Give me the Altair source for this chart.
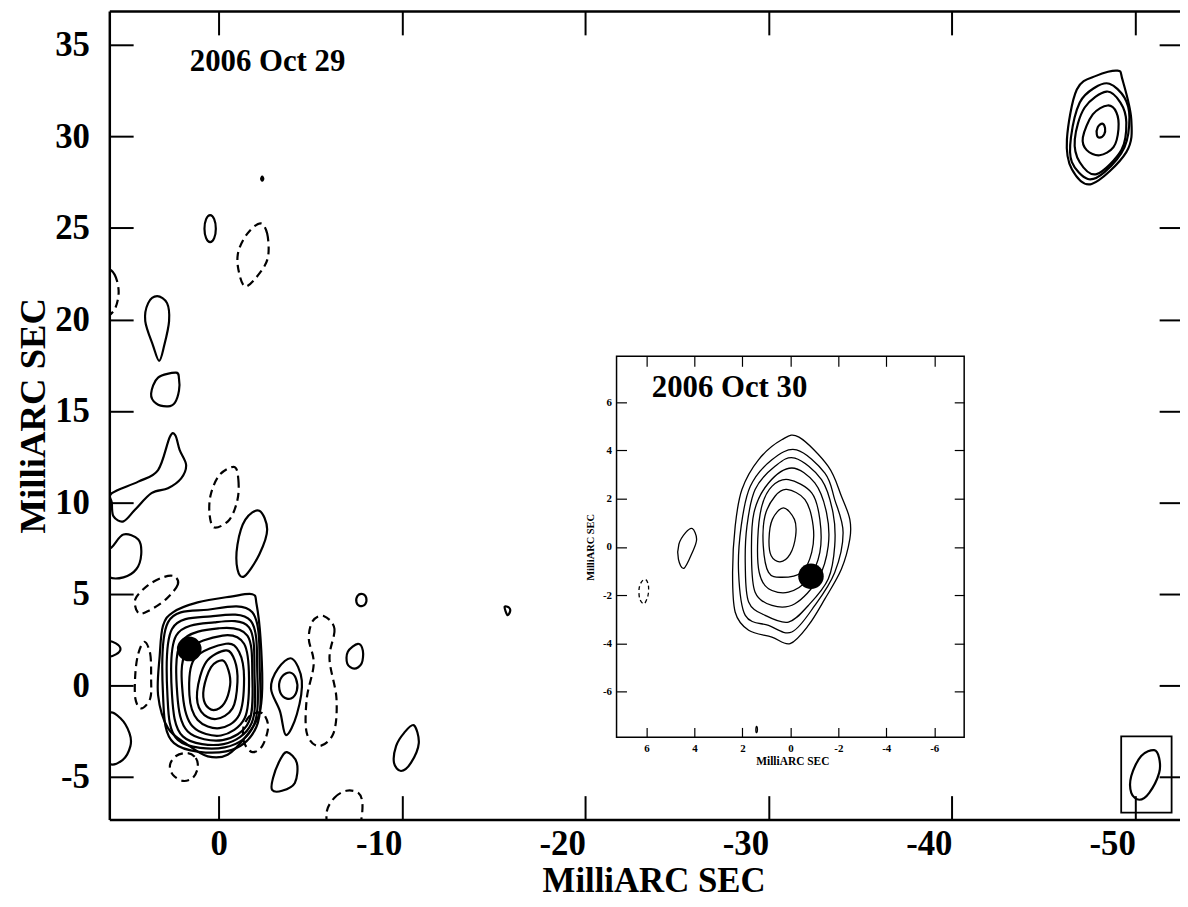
import altair as alt
import pandas as pd

FONT = "Liberation Serif"

# ---------------- axis values and domains ----------------
main_x_ticks = [0, -10, -20, -30, -40, -50]
main_y_ticks = [-5, 0, 5, 10, 15, 20, 25, 30, 35]
inset_x_ticks = [-6, -4, -2, 0, 2, 4, 6]
inset_y_ticks = [-6, -4, -2, 0, 2, 4, 6]
main_x_domain = [-52.6, 5.96]
main_y_domain = [-7.32, 36.85]
inset_x_domain = [-7.25, 7.25]
inset_y_domain = [-7.9, 7.9]
axis_title = "MilliARC SEC"

# ---------------- annotations ----------------
epoch_main = ["2006 Oct 29"]
epoch_main_x = [1.57]
epoch_main_y = [33.55]
epoch_inset = ["2006 Oct 30"]
epoch_inset_x = [5.78]
epoch_inset_y = [6.21]

# component position (filled circle)
dot_main_x = [1.6]
dot_main_y = [2.0]
dot_inset_x = [-0.86]
dot_inset_y = [-1.22]

# restoring beam box (main map units)
beam_box_x = [-49.23]
beam_box_x2 = [-51.98]
beam_box_y = [-2.78]
beam_box_y2 = [-6.95]
beam_ellipse = [(-51.03, -3.53), (-51.30, -3.96), (-51.30, -4.77), (-50.76, -5.86),
                (-50.22, -6.24), (-49.78, -5.86), (-49.78, -4.94), (-50.32, -3.85)]

# ---------------- main map: positive contours ----------------
core_1 = [(2.49, 4.00), (1.14, 4.54), (-0.67, 4.86), (-1.84, 4.99), (-2.07, 4.45), (-2.29, 2.55),
          (-2.38, -0.16), (-2.20, -1.61), (-1.57, -2.69), (-0.49, -3.78), (0.59, -3.87),
          (1.68, -3.24), (2.76, -2.33), (3.30, -0.52), (3.21, 1.65), (3.03, 3.27)]
core_2 = [(0.59, 4.14), (-1.84, 4.00), (-2.25, 0.74), (-2.07, -2.24), (-0.41, -3.60),
          (2.43, -3.15), (3.03, -0.52), (2.76, 3.45)]
core_3 = [(0.41, 3.78), (-1.75, 3.54), (-2.11, 0.74), (-1.93, -2.15), (-0.34, -3.38),
          (2.22, -2.97), (2.79, -0.52), (2.54, 3.09)]
core_4 = [(0.23, 3.45), (-1.66, 3.18), (-1.96, 0.56), (-1.80, -2.06), (-0.27, -3.20),
          (1.95, -2.78), (2.54, -0.52), (2.31, 2.73)]
core_5 = [(-0.04, 3.13), (-1.57, 2.73), (-1.84, 0.56), (-1.66, -1.97), (-0.22, -2.98),
          (1.68, -2.51), (2.25, -0.52), (2.04, 2.37)]
core_6 = [(-0.22, 2.73), (-1.39, 2.28), (-1.66, 0.38), (-1.42, -1.79), (-0.13, -2.73),
          (1.41, -2.24), (1.95, -0.52), (1.77, 1.83)]
core_7 = [(-0.40, 2.28), (-1.12, 1.83), (-1.39, 0.38), (-1.12, -1.61), (-0.04, -2.33),
          (1.14, -1.88), (1.59, -0.52), (1.32, 1.46)]
core_8 = [(-0.40, 1.92), (-0.88, 1.37), (-1.03, 0.20), (-0.76, -1.25), (0.14, -1.83),
          (0.95, -1.43), (1.17, -0.34), (0.68, 1.28)]
core_9 = [(-0.22, 1.37), (-0.54, 0.83), (-0.63, 0.02), (-0.31, -0.98), (0.27, -1.34),
          (0.74, -0.98), (0.81, -0.16), (0.41, 1.01)]

blob_a = [(-2.38, 27.80), (-2.44, 27.69), (-2.38, 27.58), (-2.32, 27.69)]
blob_b = [(0.46, 25.70), (0.24, 25.48), (0.15, 24.96), (0.24, 24.44), (0.46, 24.22),
          (0.68, 24.44), (0.77, 24.96), (0.68, 25.48)]
blob_e = [(3.35, 21.27), (2.81, 20.89), (2.70, 19.91), (2.97, 18.56), (3.24, 17.74),
          (3.57, 18.56), (4.00, 19.91), (3.84, 20.89)]
blob_f = [(2.32, 17.09), (2.16, 16.77), (2.16, 16.11), (2.38, 15.46), (2.76, 15.25),
          (3.41, 15.41), (3.68, 15.95), (3.30, 16.82)]
blob_g = [(5.82, 10.51), (4.38, 11.14), (3.30, 11.77), (2.66, 13.58), (2.36, 13.67),
          (2.12, 12.86), (1.77, 12.05), (2.04, 11.32), (2.76, 10.78), (3.66, 10.51),
          (4.56, 9.60), (5.19, 8.97), (5.73, 9.24), (5.82, 9.97)]
blob_i = [(-2.22, 9.55), (-2.65, 8.52), (-2.22, 7.16), (-1.41, 5.97), (-1.03, 6.35),
          (-1.03, 7.70), (-1.46, 9.06)]
blob_j = [(5.84, 7.54), (5.19, 8.25), (4.38, 7.98), (4.22, 7.16), (4.49, 6.35),
          (5.19, 5.91), (6.00, 5.95), (6.60, 6.90)]
blob_l = [(6.10, 2.45), (5.60, 2.30), (5.35, 2.00), (5.60, 1.70), (6.10, 1.55),
          (6.60, 1.70), (6.85, 2.00), (6.60, 2.30)]
blob_n = [(6.00, -1.52), (5.35, -1.79), (4.86, -2.60), (4.81, -3.31), (5.24, -4.07),
          (6.00, -4.23), (6.54, -2.88)]
blob_q = [(-4.00, 1.47), (-4.54, 0.27), (-4.27, -1.57), (-3.68, -2.71), (-3.35, -1.41),
          (-2.86, -0.16), (-3.24, 0.92)]
blob_q_in = [(-3.89, 0.71), (-4.22, 0.38), (-4.27, -0.27), (-3.95, -0.71), (-3.51, -0.60),
             (-3.30, -0.05), (-3.46, 0.49)]
blob_s = [(-7.85, 5.00), (-8.05, 4.80), (-8.00, 4.45), (-7.72, 4.34), (-7.52, 4.55), (-7.58, 4.90)]
blob_t = [(-7.60, 2.28), (-7.87, 1.90), (-7.80, 1.20), (-7.40, 0.92), (-7.02, 1.20), (-7.05, 1.85)]
blob_u = [(-3.73, -3.64), (-4.27, -4.23), (-4.16, -5.32), (-3.46, -5.75), (-2.92, -5.70),
          (-2.97, -5.05), (-3.35, -4.07)]
blob_v = [(-10.65, -2.17), (-10.92, -3.15), (-10.49, -4.23), (-9.95, -4.67), (-9.57, -4.23),
          (-9.68, -3.31), (-10.11, -2.60)]
blob_x = [(-15.60, 4.30), (-15.85, 4.25), (-15.90, 4.05), (-15.75, 3.85)]

far_1 = [(-49.03, 33.59), (-49.30, 33.10), (-49.78, 30.93), (-49.51, 29.14), (-47.62, 27.40),
         (-46.54, 28.21), (-46.27, 29.84), (-46.81, 32.56), (-47.89, 33.32)]
far_2 = [(-48.59, 32.88), (-49.41, 32.12), (-49.68, 31.04), (-49.41, 29.41), (-48.32, 28.05),
         (-47.41, 27.67), (-46.54, 28.59), (-46.49, 29.95), (-46.97, 31.85), (-47.78, 32.66)]
far_3 = [(-48.43, 32.45), (-49.19, 31.85), (-49.51, 30.77), (-49.24, 29.25), (-47.89, 27.94),
         (-46.97, 28.59), (-46.70, 29.84), (-47.24, 31.58)]
far_4 = [(-48.49, 31.69), (-48.97, 31.31), (-49.08, 30.39), (-48.81, 29.41), (-48.05, 28.97),
         (-47.35, 29.25), (-47.14, 29.95), (-47.68, 31.20)]
far_5 = [(-48.20, 30.70), (-48.35, 30.45), (-48.30, 30.10), (-48.05, 29.93), (-47.90, 30.10),
         (-47.95, 30.50)]

# ---------------- main map: negative (dashed) contours ----------------
neg_c = [(-2.27, 25.25), (-2.65, 24.69), (-2.70, 23.44), (-2.27, 22.57), (-1.46, 21.80),
         (-1.08, 22.73), (-1.08, 23.71), (-1.57, 24.69)]
neg_d = [(6.20, 22.85), (5.67, 22.45), (5.45, 21.50), (5.67, 20.55), (6.20, 20.15),
         (6.73, 20.55), (6.95, 21.50), (6.73, 22.45)]
neg_h = [(-0.86, 11.94), (-1.08, 11.23), (-1.03, 10.15), (-0.59, 9.06), (0.22, 8.63),
         (0.49, 9.33), (0.43, 10.42), (-0.05, 11.50)]
neg_k = [(2.43, 5.97), (2.22, 5.53), (2.86, 4.72), (3.84, 4.07), (4.38, 3.96),
         (4.54, 4.72), (3.84, 5.48), (3.03, 5.91)]
neg_m = [(4.05, 2.39), (3.73, 1.74), (3.68, 0.38), (3.73, -0.71), (4.22, -1.25),
         (4.54, -0.71), (4.54, 0.65), (4.38, 1.74)]
neg_o = [(1.68, -3.69), (1.24, -3.96), (1.14, -4.50), (1.41, -5.05), (1.95, -5.21),
         (2.49, -4.88), (2.65, -4.34), (2.32, -3.85)]
neg_p = [(-2.22, -1.47), (-2.54, -1.68), (-2.70, -2.33), (-2.38, -3.31), (-1.84, -3.64),
         (-1.41, -3.15), (-1.35, -2.33), (-1.68, -1.68)]
neg_r = [(-5.73, 3.80), (-6.32, 3.09), (-6.05, 1.47), (-6.43, -0.71), (-6.27, -2.60),
         (-5.46, -3.31), (-4.81, -2.60), (-4.81, -0.71), (-5.19, 1.19), (-4.92, 2.55),
         (-5.14, 3.53)]
neg_w = [(-5.89, -6.95), (-6.32, -6.13), (-6.97, -5.75), (-7.62, -5.86), (-7.84, -6.40),
         (-7.78, -7.33), (-7.51, -8.03), (-6.16, -8.03)]

# ---------------- inset map ----------------
in_1 = [(-0.36, 4.55), (-1.58, 3.34), (-2.13, 2.10), (-2.48, 1.14), (-2.48, 0.32), (-2.13, -0.92),
        (-1.44, -2.16), (-0.75, -3.26), (0.01, -4.01), (0.77, -3.74), (1.74, -3.46),
        (2.30, -2.71), (2.41, -1.06), (2.30, 0.87), (2.02, 2.38), (1.33, 3.61), (0.36, 4.44)]
in_2 = [(-0.26, 4.02), (-1.44, 3.06), (-1.85, 1.96), (-2.20, 0.59), (-1.85, -1.06),
        (-1.02, -2.43), (-0.06, -3.53), (0.91, -3.26), (1.88, -2.84), (2.16, -1.06),
        (2.05, 0.87), (1.67, 2.51), (0.77, 3.61)]
in_3 = [(-0.19, 3.68), (-1.30, 2.79), (-1.78, 1.41), (-1.85, 0.04), (-1.58, -1.33),
        (-0.75, -2.43), (0.08, -3.12), (1.05, -2.84), (1.74, -2.29), (1.88, -0.78),
        (1.81, 0.87), (1.47, 2.38), (0.64, 3.34)]
in_4 = [(-0.06, 3.27), (-1.02, 2.65), (-1.51, 1.41), (-1.58, 0.04), (-1.16, -1.33),
        (-0.19, -2.36), (0.77, -2.43), (1.47, -1.88), (1.62, -0.37), (1.52, 1.41), (0.91, 2.65)]
in_5 = [(0.08, 2.79), (-0.89, 2.24), (-1.23, 1.14), (-1.23, -0.23), (-0.75, -1.33),
        (0.08, -1.88), (0.91, -1.74), (1.30, -1.06), (1.36, 0.32), (1.19, 1.69), (0.77, 2.51)]
in_6 = [(0.15, 2.38), (-0.61, 1.96), (-0.95, 0.87), (-0.89, -0.23), (-0.47, -1.06),
        (0.36, -1.26), (0.91, -1.06), (1.13, 0.04), (1.06, 1.28), (0.64, 2.10)]
in_7 = [(0.29, 1.62), (-0.17, 1.14), (-0.22, 0.45), (0.01, -0.30), (0.43, -0.62),
        (0.80, -0.37), (0.89, 0.32), (0.75, 1.14)]
in_side = [(4.09, 0.76), (3.91, 0.32), (4.09, -0.23), (4.44, -0.89), (4.67, -0.51),
           (4.65, 0.11), (4.37, 0.59)]
in_tiny = [(1.42, -7.45), (1.38, -7.50), (1.38, -7.65), (1.42, -7.70), (1.44, -7.60)]
in_neg = [(6.03, -1.36), (5.92, -1.61), (5.94, -2.02), (6.10, -2.36), (6.28, -2.16),
          (6.31, -1.74), (6.20, -1.44)]

# ---------------- layout (pixels) ----------------
PLOT_W, PLOT_H = 1070, 814
X_END = 1081
IN_L, IN_R, IN_T, IN_B = 510.7, 860.7, 347.7, 731.3


def frame(groups):
    rows = []
    for name, pts in groups.items():
        for i, (x, y) in enumerate(pts):
            rows.append({"id": name, "i": i, "x": x, "y": y})
    return pd.DataFrame(rows)


main_solid_df = frame({
    "core_1": core_1, "core_2": core_2, "core_3": core_3, "core_4": core_4, "core_5": core_5,
    "core_6": core_6, "core_7": core_7, "core_8": core_8, "core_9": core_9,
    "blob_a": blob_a, "blob_b": blob_b, "blob_e": blob_e, "blob_f": blob_f, "blob_g": blob_g,
    "blob_i": blob_i, "blob_j": blob_j, "blob_l": blob_l, "blob_n": blob_n, "blob_q": blob_q,
    "blob_q_in": blob_q_in, "blob_s": blob_s, "blob_t": blob_t, "blob_u": blob_u,
    "blob_v": blob_v, "blob_x": blob_x,
    "far_1": far_1, "far_2": far_2, "far_3": far_3, "far_4": far_4, "far_5": far_5,
})
main_neg_df = frame({
    "neg_c": neg_c, "neg_d": neg_d, "neg_h": neg_h, "neg_k": neg_k, "neg_m": neg_m,
    "neg_o": neg_o, "neg_p": neg_p, "neg_r": neg_r, "neg_w": neg_w,
})
beam_df = frame({"beam": beam_ellipse})
inset_solid_df = frame({
    "in_1": in_1, "in_2": in_2, "in_3": in_3, "in_4": in_4, "in_5": in_5, "in_6": in_6,
    "in_7": in_7, "in_side": in_side, "in_tiny": in_tiny,
})
inset_neg_df = frame({"in_neg": in_neg})

MX = alt.Scale(domain=main_x_domain, range=[X_END, 0], nice=False, zero=False)
MY = alt.Scale(domain=main_y_domain, nice=False, zero=False)
IX = alt.Scale(domain=inset_x_domain, range=[IN_R, IN_L], nice=False, zero=False)
IY = alt.Scale(domain=inset_y_domain, range=[IN_B, IN_T], nice=False, zero=False)


def tick_axis(orient, offset, values, size, width, domain=False, dwidth=2.5):
    return alt.Axis(orient=orient, offset=offset, values=values, tickSize=size,
                    tickWidth=width, tickColor="black", ticks=True, labels=False,
                    domain=domain, domainWidth=dwidth, domainColor="black",
                    grid=False, title=None, zindex=1)


def label_axis(orient, offset, values, fsize, pad, align, baseline, title, tsize,
               tx, ty, angle, domain=False, dwidth=2.5):
    return alt.Axis(orient=orient, offset=offset, values=values, ticks=False, tickSize=0,
                    domain=domain, domainWidth=dwidth, domainColor="black", grid=False,
                    labelFont=FONT, labelFontSize=fsize, labelFontWeight="bold",
                    labelColor="black", labelPadding=pad, labelAlign=align,
                    labelBaseline=baseline, labelFlush=False, labelOverlap=False,
                    labelExpr="'' + datum.value",
                    title=title, titleFont=FONT, titleFontSize=tsize, titleFontWeight="bold",
                    titleColor="black", titleX=tx, titleY=ty, titleAngle=angle,
                    titleAlign="center", titleBaseline="alphabetic", zindex=1)


# main axes
ax_main_bottom = label_axis("bottom", 0, main_x_ticks, 35, 7,
                            {"condition": {"test": "datum.value === 0", "value": "center"},
                             "value": "right"},
                            "top", axis_title, 35, 548, 72, 0, domain=True)
ax_main_left = label_axis("left", 0, main_y_ticks, 35, 20, "right", "middle",
                          axis_title, 37, -65, 407, 270, domain=True)
ax_main_bottom_ticks = tick_axis("top", -PLOT_H, main_x_ticks, 24, 2)
ax_main_top_ticks = tick_axis("bottom", -PLOT_H, main_x_ticks, 24, 2, domain=True)
ax_main_left_ticks = tick_axis("right", -PLOT_W, main_y_ticks, 24, 2)
ax_main_right_ticks = tick_axis("left", -X_END, main_y_ticks, 24, 2)

# inset axes
ax_in_bottom = label_axis("bottom", IN_B - PLOT_H, inset_x_ticks, 11, 5, "center", "top",
                          axis_title, 11.5, (IN_L + IN_R) / 2 + 2, 27, 0)
ax_in_left = label_axis("left", -IN_L, inset_y_ticks, 11, 5, "right", "middle",
                        axis_title, 10.5, -23, (IN_T + IN_B) / 2, 270)
ax_in_bottom_ticks = tick_axis("top", -IN_B, inset_x_ticks, 10, 1.2)
ax_in_top_ticks = tick_axis("bottom", IN_T - PLOT_H, inset_x_ticks, 10, 1.2)
ax_in_left_ticks = tick_axis("right", IN_L - PLOT_W, inset_y_ticks, 10, 1.2)
ax_in_right_ticks = tick_axis("left", -IN_R, inset_y_ticks, 10, 1.2)

# ---------------- main layers ----------------
main_solid = alt.Chart(main_solid_df).mark_line(
    interpolate="cardinal-closed", color="black", strokeWidth=2.2, clip=True
).encode(
    x=alt.X("x:Q", scale=MX, axis=ax_main_bottom),
    y=alt.Y("y:Q", scale=MY, axis=ax_main_left),
    detail="id:N", order="i:Q",
)
main_neg = alt.Chart(main_neg_df).mark_line(
    interpolate="cardinal-closed", color="black", strokeWidth=2.2, strokeDash=[8, 5], clip=True
).encode(
    x=alt.X("x:Q", scale=MX, axis=ax_main_bottom_ticks),
    y=alt.Y("y:Q", scale=MY, axis=ax_main_left_ticks),
    detail="id:N", order="i:Q",
)
main_dot = alt.Chart(pd.DataFrame({"x": dot_main_x, "y": dot_main_y})).mark_circle(
    size=616, color="black", opacity=1
).encode(
    x=alt.X("x:Q", scale=MX, axis=ax_main_top_ticks),
    y=alt.Y("y:Q", scale=MY, axis=ax_main_right_ticks),
)
beam_box = alt.Chart(pd.DataFrame({"x": beam_box_x, "x2": beam_box_x2,
                                   "y": beam_box_y, "y2": beam_box_y2})).mark_rect(
    fillOpacity=0, stroke="black", strokeWidth=1.8
).encode(
    x=alt.X("x:Q", scale=MX, axis=None), x2="x2:Q",
    y=alt.Y("y:Q", scale=MY, axis=None), y2="y2:Q",
)
beam_line = alt.Chart(beam_df).mark_line(
    interpolate="cardinal-closed", color="black", strokeWidth=2.2
).encode(
    x=alt.X("x:Q", scale=MX, axis=None),
    y=alt.Y("y:Q", scale=MY, axis=None),
    detail="id:N", order="i:Q",
)
main_text = alt.Chart(pd.DataFrame({"x": epoch_main_x, "y": epoch_main_y, "t": epoch_main})).mark_text(
    font=FONT, fontSize=31, fontWeight="bold", align="left", baseline="alphabetic", color="black"
).encode(
    x=alt.X("x:Q", scale=MX, axis=None),
    y=alt.Y("y:Q", scale=MY, axis=None),
    text="t:N",
)

main_group = alt.layer(main_solid, main_neg, main_dot, beam_box, beam_line, main_text).resolve_axis(
    x="independent", y="independent")

# ---------------- inset layers ----------------
inset_frame = alt.Chart(pd.DataFrame({"x": [inset_x_domain[0]], "x2": [inset_x_domain[1]],
                                      "y": [inset_y_domain[0]], "y2": [inset_y_domain[1]]})).mark_rect(
    fill="white", stroke="black", strokeWidth=1.5
).encode(
    x=alt.X("x:Q", scale=IX, axis=ax_in_bottom), x2="x2:Q",
    y=alt.Y("y:Q", scale=IY, axis=ax_in_left), y2="y2:Q",
)
inset_solid = alt.Chart(inset_solid_df).mark_line(
    interpolate="cardinal-closed", color="black", strokeWidth=1.3
).encode(
    x=alt.X("x:Q", scale=IX, axis=ax_in_bottom_ticks),
    y=alt.Y("y:Q", scale=IY, axis=ax_in_left_ticks),
    detail="id:N", order="i:Q",
)
inset_neg = alt.Chart(inset_neg_df).mark_line(
    interpolate="cardinal-closed", color="black", strokeWidth=1.3, strokeDash=[4, 3]
).encode(
    x=alt.X("x:Q", scale=IX, axis=ax_in_top_ticks),
    y=alt.Y("y:Q", scale=IY, axis=ax_in_right_ticks),
    detail="id:N", order="i:Q",
)
inset_dot = alt.Chart(pd.DataFrame({"x": dot_inset_x, "y": dot_inset_y})).mark_circle(
    size=660, color="black", opacity=1
).encode(
    x=alt.X("x:Q", scale=IX, axis=None),
    y=alt.Y("y:Q", scale=IY, axis=None),
)
inset_text = alt.Chart(pd.DataFrame({"x": epoch_inset_x, "y": epoch_inset_y, "t": epoch_inset})).mark_text(
    font=FONT, fontSize=31, fontWeight="bold", align="left", baseline="alphabetic", color="black"
).encode(
    x=alt.X("x:Q", scale=IX, axis=None),
    y=alt.Y("y:Q", scale=IY, axis=None),
    text="t:N",
)

inset_group = alt.layer(inset_frame, inset_solid, inset_neg, inset_dot, inset_text).resolve_axis(
    x="independent", y="independent")

chart = alt.layer(main_group, inset_group).resolve_scale(
    x="independent", y="independent"
).properties(
    width=PLOT_W, height=PLOT_H,
    autosize=alt.AutoSizeParams(type="none"),
    padding={"left": 102, "top": 0, "right": 8, "bottom": 77},
    background="white",
).configure_view(strokeWidth=0)

chart.save("out.html", embed_options={"renderer": "svg", "actions": False})
